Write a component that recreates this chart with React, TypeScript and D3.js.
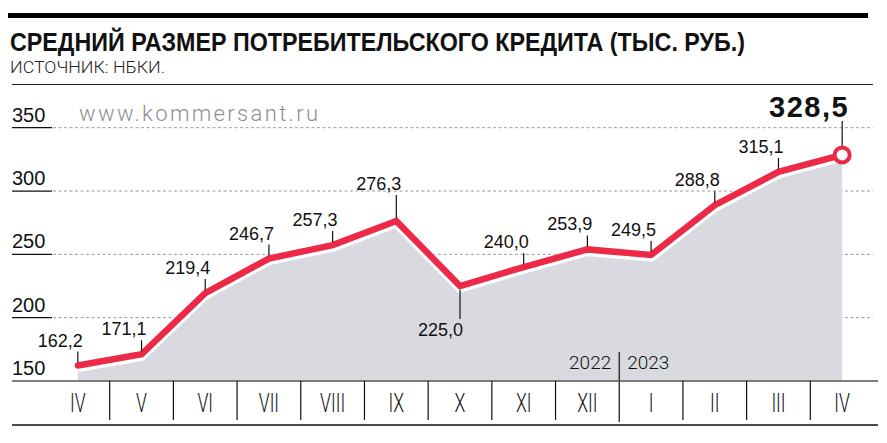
import React from "react";
import * as d3 from "d3";

const months = ["IV", "V", "VI", "VII", "VIII", "IX", "X", "XI", "XII", "I", "II", "III", "IV"];
const values = [162.2, 171.1, 219.4, 246.7, 257.3, 276.3, 225.0, 240.0, 253.9, 249.5, 288.8, 315.1, 328.5];
const valueLabels = ["162,2", "171,1", "219,4", "246,7", "257,3", "276,3", "225,0", "240,0", "253,9", "249,5", "288,8", "315,1", "328,5"];
const yTicks = [150, 200, 250, 300, 350];
const yearLabels = ["2022", "2023"];
const title = "СРЕДНИЙ РАЗМЕР ПОТРЕБИТЕЛЬСКОГО КРЕДИТА (ТЫС. РУБ.)";
const subtitle = "ИСТОЧНИК: НБКИ.";
const watermark = "www.kommersant.ru";

const W = 887;
const H = 443;
const RED = "#ec2a48";
const AREA = "#d9dae0";
const SANS = "'Liberation Sans', Arial, sans-serif";
const LIGHT = "Roboto, 'Liberation Sans', sans-serif";

export default function App() {
  React.useEffect(() => {
    document.body.style.margin = "0";
    document.body.style.overflow = "hidden";
  }, []);

  const y = d3.scaleLinear().domain([150, 350]).range([381, 127.7]);
  const x = d3
    .scaleBand<number>()
    .domain(d3.range(months.length))
    .range([46, 874])
    .padding(0);
  const bw = x.bandwidth();
  const cx = (i: number) => (x(i) as number) + bw / 2;

  const pts: [number, number][] = values.map((v, i) => [cx(i), y(v)]);
  const line = d3.line<[number, number]>().x((d) => d[0]).y((d) => d[1]);
  const area = d3
    .area<[number, number]>()
    .x((d) => d[0])
    .y0(y(150))
    .y1((d) => d[1]);

  const last = values.length - 1;
  const lowIdx = 6; // the dip, labelled below
  const yearSplit = 9;

  return (
    <svg
      width={W}
      height={H}
      viewBox={`0 0 ${W} ${H}`}
      style={{ position: "absolute", left: 0, top: 0, background: "#fff" }}
    >
      {/* top bar */}
      <rect x={8} y={13} width={860} height={5} fill="#000" />
      <text
        x={10}
        y={51}
        fontFamily={SANS}
        fontWeight={700}
        fontSize={25}
        fill="#111"
        textLength={735}
        lengthAdjust="spacingAndGlyphs"
      >
        {title}
      </text>
      <text
        x={10}
        y={73}
        fontFamily={LIGHT}
        fontWeight={300}
        fontSize={17}
        fill="#222"
        textLength={155}
        lengthAdjust="spacingAndGlyphs"
      >
        {subtitle}
      </text>
      <line x1={12} x2={873} y1={84.5} y2={84.5} stroke="#222" strokeWidth={1} />

      {/* grid */}
      {yTicks.slice(1).map((t) => (
        <g key={t}>
          <line x1={12} x2={52} y1={y(t)} y2={y(t)} stroke="#111" strokeWidth={1.2} />
          <line
            x1={53}
            x2={873}
            y1={y(t)}
            y2={y(t)}
            stroke="#9a9a9a"
            strokeWidth={1}
            strokeDasharray="3,2.5"
          />
        </g>
      ))}
      {yTicks.map((t) => (
        <text key={"l" + t} x={12} y={y(t) - 6} fontFamily={SANS} fontSize={20} fill="#111">
          {t}
        </text>
      ))}
      <text
        x={79}
        y={121}
        fontFamily={LIGHT}
        fontWeight={300}
        fontSize={22}
        fill="#8f8f8f"
        textLength={239}
        lengthAdjust="spacing"
      >
        {watermark}
      </text>

      {/* area + line */}
      <path d={area(pts) as string} fill={AREA} />
      <path
        d={line(pts) as string}
        transform="translate(0,1.6)"
        fill="none"
        stroke="#fff"
        strokeWidth={10}
        strokeLinejoin="miter"
      />
      <path
        d={line(pts) as string}
        fill="none"
        stroke={RED}
        strokeWidth={6.5}
        strokeLinejoin="miter"
        strokeLinecap="round"
      />

      {/* year split */}
      <line
        x1={x(yearSplit) as number}
        x2={x(yearSplit) as number}
        y1={352}
        y2={422}
        stroke="#111"
        strokeWidth={1.2}
      />
      <text
        x={(x(yearSplit) as number) - 8}
        y={369}
        textAnchor="end"
        fontFamily={LIGHT}
        fontWeight={300}
        fontSize={19}
        fill="#111"
      >
        {yearLabels[0]}
      </text>
      <text
        x={(x(yearSplit) as number) + 8}
        y={369}
        fontFamily={LIGHT}
        fontWeight={300}
        fontSize={19}
        fill="#111"
      >
        {yearLabels[1]}
      </text>

      {/* x axis */}
      <line x1={12} x2={878} y1={381} y2={381} stroke="#555" strokeWidth={1.5} />
      <line x1={12} x2={878} y1={425} y2={425} stroke="#111" strokeWidth={1.5} />
      {months.map((m, i) => (
        <g key={"m" + i}>
          {i > 0 && i !== yearSplit && (
            <line
              x1={x(i) as number}
              x2={x(i) as number}
              y1={381}
              y2={420}
              stroke="#111"
              strokeWidth={1.2}
            />
          )}
          <text
            transform={`translate(${cx(i)},412) scale(0.68,1)`}
            textAnchor="middle"
            fontFamily={LIGHT}
            fontWeight={300}
            fontSize={26}
            fill="#111"
          >
            {m}
          </text>
        </g>
      ))}

      {/* labels */}
      {values.map((v, i) => {
        const px = cx(i);
        const py = y(v);
        if (i === last) {
          return (
            <g key={"v" + i}>
              <line x1={px} x2={px} y1={121} y2={146} stroke="#111" strokeWidth={1.2} />
              <circle cx={px} cy={py} r={7.5} fill="#fff" stroke={RED} strokeWidth={4} />
              <text
                x={px + 7}
                y={117}
                textAnchor="end"
                fontFamily={SANS}
                fontWeight={700}
                fontSize={29}
                letterSpacing={1.5}
                fill="#111"
              >
                {valueLabels[i]}
              </text>
            </g>
          );
        }
        if (i === lowIdx) {
          return (
            <g key={"v" + i}>
              <line x1={px} x2={px} y1={py + 4} y2={py + 33} stroke="#111" strokeWidth={1.2} />
              <text
                x={px + 3}
                y={py + 50}
                textAnchor="end"
                fontFamily={SANS}
                fontSize={18}
                fill="#111"
              >
                {valueLabels[i]}
              </text>
            </g>
          );
        }
        const lift = i === 5 ? 31 : 19;
        return (
          <g key={"v" + i}>
            <line x1={px} x2={px} y1={py - 3} y2={py - lift + 5} stroke="#111" strokeWidth={1.2} />
            <text
              x={px + 5}
              y={py - lift}
              textAnchor="end"
              fontFamily={SANS}
              fontSize={18}
              fill="#111"
            >
              {valueLabels[i]}
            </text>
          </g>
        );
      })}
    </svg>
  );
}
